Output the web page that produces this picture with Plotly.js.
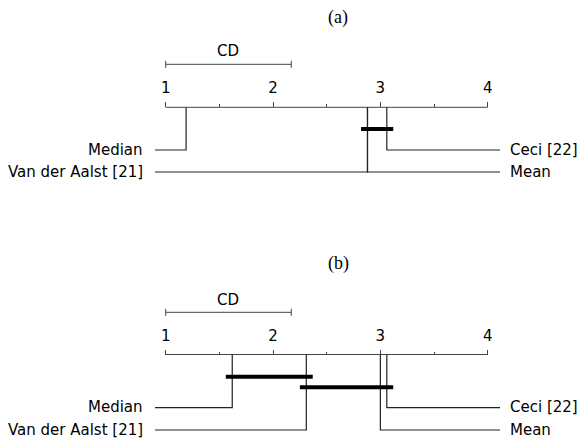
<!DOCTYPE html>
<html><head><meta charset="utf-8">
<script src="https://cdn.plot.ly/plotly-3.0.1.min.js"></script>
<style>html,body{margin:0;padding:0;background:#fff}</style>
</head><body><div id="chart" style="width:579px;height:441px"></div>
<script>
// ---- data ----
const methods = ['Median', 'Van der Aalst [21]', 'Ceci [22]', 'Mean'];
const ranksA = [1.19, 2.88, 3.06, 2.88];
const ranksB = [1.62, 2.31, 3.06, 3.00];
const cdA = 1.17;
const cdB = 1.17;
const cliquesA = [['Van der Aalst [21]', 'Mean', 'Ceci [22]']];
const cliquesB = [['Median', 'Van der Aalst [21]'], ['Van der Aalst [21]', 'Mean', 'Ceci [22]']];
const tickVals = [1, 2, 3, 4];
const tickText = ['1', '2', '3', '4'];
const minorVals = [1.5, 2.5, 3.5];
const panelTitles = ['(a)', '(b)'];

// ---- layout geometry (pixels) ----
const W = 579, H = 441;
const px1 = 165.7, pxPerUnit = 107.33;
const xr0 = 1 - px1 / pxPerUnit;
const xr1 = xr0 + W / pxPerUnit;
const toRank = p => xr0 + p / pxPerUnit;
const lineLeft = toRank(155), lineRight = toRank(500);
const FONT = 'DejaVu Sans, sans-serif';
const FS = 15;
const LINE = '#222';

const panels = [
  {ranks: ranksA, cd: cdA, cliques: cliquesA, title: panelTitles[0], xa: 'x',
   axisY: 107.3, cdY: 64.3, cdTextY: 51, cliqueY: [129], rowY: [150, 172], titleY: 17},
  {ranks: ranksB, cd: cdB, cliques: cliquesB, title: panelTitles[1], xa: 'x2',
   axisY: 354.5, cdY: 312.3, cdTextY: 299.5, cliqueY: [376.7, 387.3], rowY: [407.7, 430], titleY: 263}
];

const traces = [];
const annotations = [];
function line(xs, ys, xa, width, color) {
  traces.push({type: 'scatter', mode: 'lines', x: xs, y: ys, xaxis: xa, yaxis: 'y',
    line: {color: color || LINE, width: width || 1.2}, hoverinfo: 'skip', showlegend: false});
}

panels.forEach(P => {
  const xa = P.xa;
  // axis line
  line([tickVals[0], tickVals[tickVals.length - 1]], [P.axisY, P.axisY], xa, 1, '#444');
  // CD bar
  line([1, 1 + P.cd], [P.cdY, P.cdY], xa, 1, '#444');
  line([1, 1], [P.cdY - 3.5, P.cdY + 3.5], xa, 1, '#444');
  line([1 + P.cd, 1 + P.cd], [P.cdY - 3.5, P.cdY + 3.5], xa, 1, '#444');
  annotations.push({xref: xa, yref: 'y', x: 1 + P.cd / 2, y: P.cdTextY, text: 'CD', showarrow: false,
    font: {family: FONT, size: FS, color: '#000'}, xanchor: 'center', yanchor: 'middle'});
  // order methods
  const idx = P.ranks.map((r, i) => i).sort((a, b) => P.ranks[a] - P.ranks[b]);
  const half = idx.length / 2;
  const left = idx.slice(0, half);
  const right = idx.slice(half).reverse();
  left.forEach((i, k) => {
    const r = P.ranks[i], yRow = P.rowY[k];
    line([r, r, lineLeft], [P.axisY, yRow, yRow], xa, 1.2);
    annotations.push({xref: 'paper', yref: 'y', x: 145 / W, y: yRow - 0.5, text: methods[i], showarrow: false,
      font: {family: FONT, size: FS, color: '#000'}, xanchor: 'right', yanchor: 'middle'});
  });
  right.forEach((i, k) => {
    const r = P.ranks[i], yRow = P.rowY[k];
    line([r, r, lineRight], [P.axisY, yRow, yRow], xa, 1.2);
    annotations.push({xref: 'paper', yref: 'y', x: 508 / W, y: yRow - 0.5, text: methods[i], showarrow: false,
      font: {family: FONT, size: FS, color: '#000'}, xanchor: 'left', yanchor: 'middle'});
  });
  // cliques
  P.cliques.forEach((c, k) => {
    const rs = c.map(m => P.ranks[methods.indexOf(m)]);
    line([Math.min(...rs) - 0.06, Math.max(...rs) + 0.06], [P.cliqueY[k], P.cliqueY[k]], xa, 4, '#000');
  });
  // title
  annotations.push({xref: 'paper', yref: 'y', x: 338 / W, y: P.titleY, text: P.title, showarrow: false,
    font: {family: 'Liberation Serif, serif', size: 18, color: '#000'}, xanchor: 'center', yanchor: 'middle'});
});

function xAxis(P) {
  return {range: [xr0, xr1], anchor: 'free', position: 1 - P.axisY / H, side: 'top',
    showline: false, showgrid: false, zeroline: false, automargin: false,
    tickmode: 'array', tickvals: tickVals, ticktext: tickText,
    ticks: 'outside', ticklen: 5, tickwidth: 1, tickcolor: '#444', ticklabelstandoff: 3,
    tickfont: {family: FONT, size: FS, color: '#000'},
    minor: {tickmode: 'array', tickvals: minorVals, ticks: 'outside', ticklen: 3, tickwidth: 1, tickcolor: '#444', showgrid: false}};
}

const layout = {
  width: W, height: H, margin: {l: 0, r: 0, t: 0, b: 0},
  paper_bgcolor: '#fff', plot_bgcolor: '#fff', showlegend: false,
  xaxis: xAxis(panels[0]),
  xaxis2: Object.assign(xAxis(panels[1]), {overlaying: 'x'}),
  yaxis: {range: [H, 0], domain: [0, 1], visible: false, fixedrange: true},
  annotations: annotations
};

Plotly.newPlot('chart', traces, layout, {staticPlot: true, displayModeBar: false});
</script>
</body></html>
